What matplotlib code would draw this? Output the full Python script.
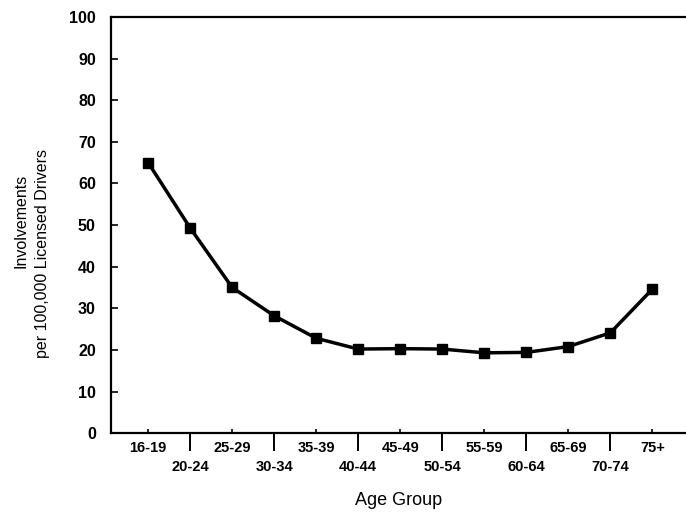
import numpy as np
import matplotlib
matplotlib.use('Agg')
import matplotlib.pyplot as plt

# age groups and involvement rates per 100,000 licensed drivers
age_groups = ['16-19', '20-24', '25-29', '30-34', '35-39', '40-44', '45-49',
              '50-54', '55-59', '60-64', '65-69', '70-74', '75+']
involvements = [65.0, 49.3, 35.0, 28.2, 22.8, 20.2, 20.3, 20.2, 19.3, 19.4, 20.8, 24.1, 34.6]

plt.rcParams['font.family'] = ['Liberation Sans', 'DejaVu Sans']

W, H = 686, 512
fig = plt.figure(figsize=(W / 100, H / 100), dpi=100)
ax = fig.add_axes([0.162, 0.154, 0.838, 0.813])

x = np.arange(len(age_groups))
ax.plot(x, involvements, color='black', lw=2.5, marker='s', markersize=7.8,
        markerfacecolor='black', markeredgecolor='black')

ax.set_xlim(-0.88, 12.8)
ax.set_ylim(0, 100)
ax.set_yticks(np.arange(0, 101, 10))

# upper row of labels on major ticks, lower row on minor ticks
ax.set_xticks(x[::2])
ax.set_xticklabels(age_groups[::2], fontweight='bold')
ax.set_xticks(x[1::2], minor=True)
ax.set_xticklabels(age_groups[1::2], minor=True, fontweight='bold')

ax.tick_params(axis='x', which='major', direction='in', length=3, width=1.2,
               labelsize=10.5, pad=6)
ax.tick_params(axis='x', which='minor', direction='out', length=13, width=1.4,
               labelsize=10.5, pad=6)
ax.tick_params(axis='y', direction='in', length=5, width=1.2, labelsize=11.5, pad=11)
for lab in ax.get_yticklabels():
    lab.set_fontweight('bold')

ax.spines['right'].set_visible(False)
for s in ['left', 'bottom', 'top']:
    ax.spines[s].set_linewidth(1.6)

ax.set_xlabel('Age Group', fontsize=13, labelpad=13)

# two-line y label, lines placed separately as in the original
fig.text(21 / W, 1 - 221 / H, 'Involvements', rotation=90, fontsize=11.5,
         ha='center', va='center')
fig.text(43 / W, 1 - 254 / H, 'per 100,000 Licensed Drivers', rotation=90,
         fontsize=11.5, ha='center', va='center')

fig.savefig('out.png', dpi=100)
